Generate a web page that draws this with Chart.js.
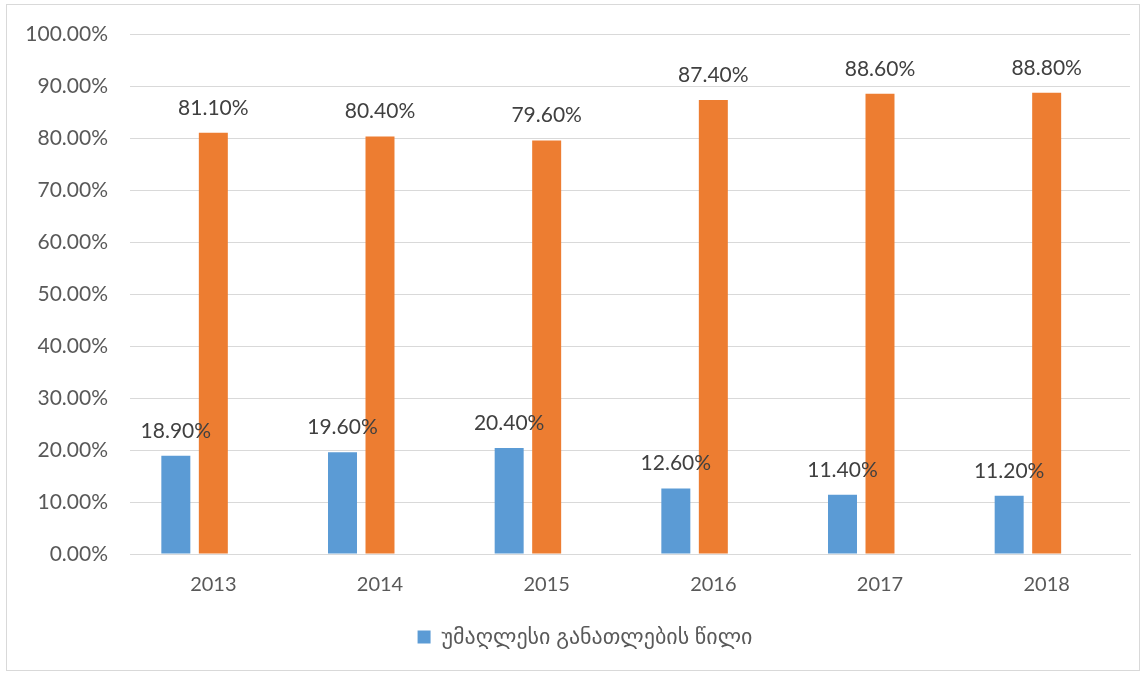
<!DOCTYPE html>
<html>
<head>
<meta charset="utf-8">
<script src="https://cdn.jsdelivr.net/npm/chart.js@4"></script>
<style>
    html, body { margin: 0; padding: 0; background: #fff; }
    #wrap { position: relative; width: 1145px; height: 673px; }
</style>
</head>
<body>
<div id="wrap"><canvas id="shareChart"></canvas></div>
<script>
var years = ['2013', '2014', '2015', '2016', '2017', '2018'];
var higherEdShare = [0.189, 0.196, 0.204, 0.126, 0.114, 0.112];
var otherShare = [0.811, 0.804, 0.796, 0.874, 0.886, 0.888];
var emptySeries = [null, null, null, null, null, null];
var legendLabel = 'უმაღლესი განათლების წილი';

var fontStack = 'Lato, "DejaVu Sans", sans-serif';

// value labels above the bars, like excel data labels
var barLabels = {
    id: 'barLabels',
    afterDatasetsDraw: function (chart) {
        var c = chart.ctx;
        c.save();
        c.font = '21px ' + fontStack;
        c.fillStyle = '#404040';
        c.textAlign = 'center';
        c.textBaseline = 'middle';
        [0, 1].forEach(function (di) {
            var meta = chart.getDatasetMeta(di);
            meta.data.forEach(function (bar, i) {
                var v = chart.data.datasets[di].data[i];
                c.fillText((v * 100).toFixed(2) + '%', bar.x, bar.y - 25);
            });
        });
        c.restore();
    }
};

// thin grey frame round the chart, and legend nudged under the plot centre
var frame = {
    id: 'frame',
    afterLayout: function (chart) {
        chart.legend.left += 20;
        chart.legend.right += 20;
    },
    beforeDraw: function (chart) {
        var c = chart.ctx;
        c.save();
        c.strokeStyle = '#d9d9d9';
        c.lineWidth = 1;
        c.strokeRect(6.5, 4.5, 1133, 666);
        c.restore();
    }
};

var ctx = document.getElementById('shareChart').getContext('2d');
var shareChart = new Chart(ctx, {
    type: 'bar',
    data: {
        labels: years,
        datasets: [
            { label: legendLabel, data: higherEdShare, backgroundColor: '#5B9BD5' },
            { label: 'other', data: otherShare, backgroundColor: '#ED7D31' },
            { label: 'empty', data: emptySeries, backgroundColor: '#A5A5A5' }
        ]
    },
    options: {
        responsive: true,
        maintainAspectRatio: false,
        animation: false,
        categoryPercentage: 0.675,
        barPercentage: 0.773,
        layout: {
            padding: { top: 26, right: 15, left: 0, bottom: 15 }
        },
        plugins: {
            tooltip: { enabled: false },
            legend: {
                position: 'bottom',
                labels: {
                    filter: function (item) { return item.datasetIndex === 0; },
                    boxWidth: 13,
                    boxHeight: 13,
                    color: '#595959',
                    font: { family: fontStack, size: 22 },
                    padding: 10
                }
            }
        },
        scales: {
            x: {
                grid: { display: false },
                border: { display: true, color: '#d9d9d9' },
                ticks: {
                    color: '#595959',
                    font: { family: fontStack, size: 20 },
                    padding: 11
                },
                afterFit: function (scale) { scale.height = 62; }
            },
            y: {
                min: 0,
                max: 1,
                grid: { color: '#d9d9d9', drawTicks: false },
                border: { display: false },
                ticks: {
                    stepSize: 0.1,
                    color: '#595959',
                    font: { family: fontStack, size: 21 },
                    padding: 22,
                    callback: function (value) {
                        return (value * 100).toFixed(2) + '%';
                    }
                },
                afterFit: function (scale) { scale.width = 130; }
            }
        }
    },
    plugins: [barLabels, frame]
});
</script>
</body>
</html>
